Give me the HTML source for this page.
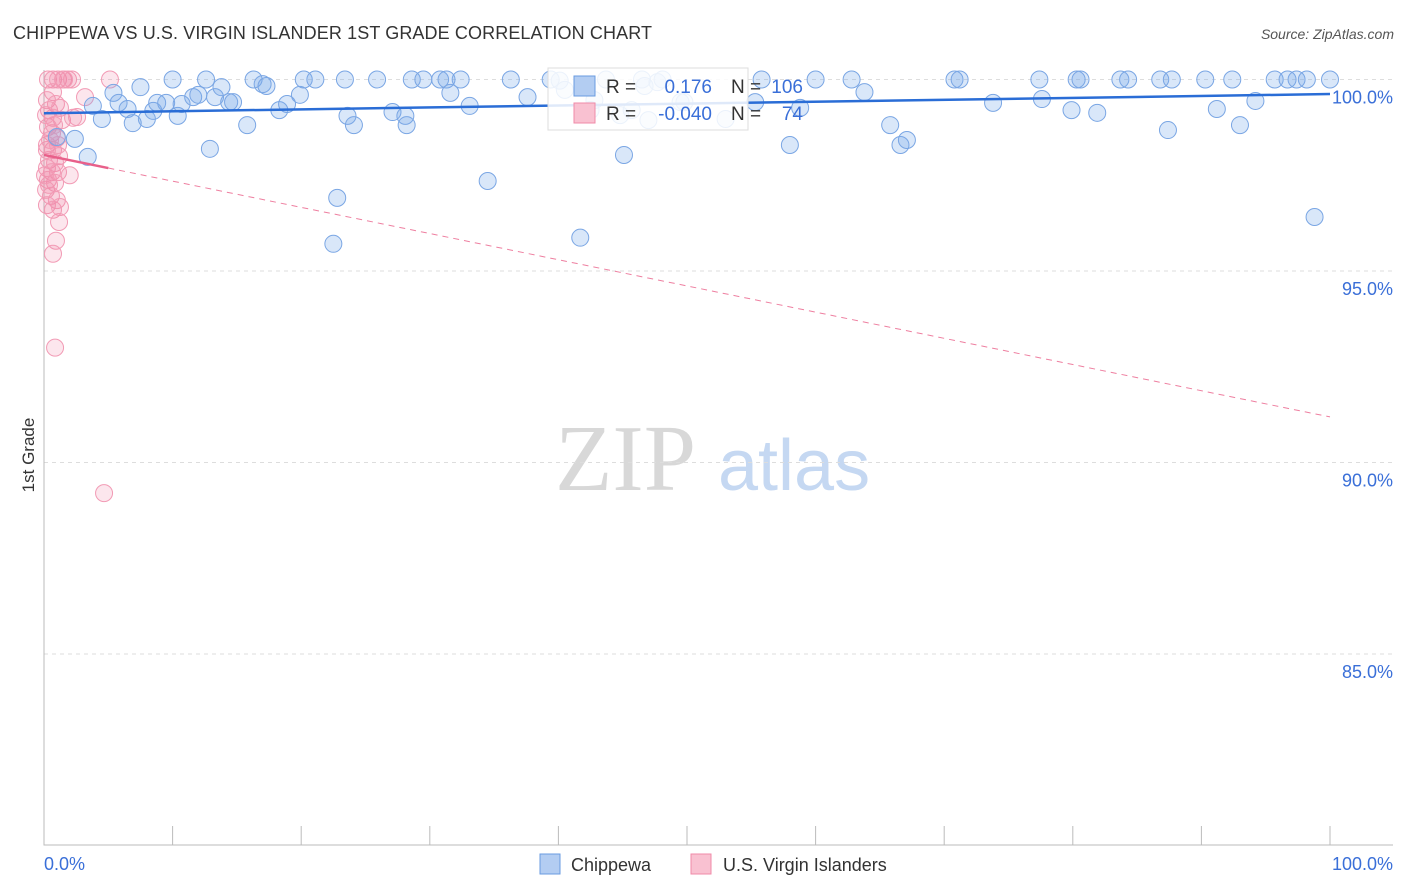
<!DOCTYPE html>
<html><head><meta charset="utf-8"><style>
body{margin:0;background:#fff;font-family:"Liberation Sans",sans-serif}
#wrap{position:relative;width:1406px;height:892px;overflow:hidden}
</style></head><body><div id="wrap">
<svg id="svg" width="1406" height="892" xmlns="http://www.w3.org/2000/svg">
<text x="13" y="39" font-size="18" fill="#333" textLength="639">CHIPPEWA VS U.S. VIRGIN ISLANDER 1ST GRADE CORRELATION CHART</text>
<text x="1394" y="39" font-size="14" fill="#555" font-style="italic" text-anchor="end">Source: ZipAtlas.com</text>
<text x="555" y="490" font-size="94" fill="#d8d8d8" font-family="Liberation Serif,serif">ZIP</text>
<text x="718" y="490" font-size="72" fill="#c5d8f2">atlas</text>
<g id="grid"></g><g id="axes"></g><g id="pink"></g><g id="blue"></g><g id="trend"></g>
<text transform="translate(34,455) rotate(-90)" font-size="17" fill="#333" text-anchor="middle">1st Grade</text>
<text x="44" y="870" font-size="18" fill="#3a6fd8">0.0%</text>
<text x="1393" y="870" font-size="18" fill="#3a6fd8" text-anchor="end">100.0%</text>
<g>
<rect x="548" y="68" width="200" height="62" fill="#fff" fill-opacity="0.85" stroke="#ddd"/>
<rect x="574" y="76" width="21" height="20" fill="#b3cdf2" stroke="#6a9be0"/>
<rect x="574" y="103" width="21" height="20" fill="#f9c1d1" stroke="#f08aa8"/>
<text x="606" y="93" font-size="19" fill="#333">R =</text>
<text x="712" y="93" font-size="19" fill="#3a6fd8" text-anchor="end">0.176</text>
<text x="731" y="93" font-size="19" fill="#333">N =</text>
<text x="803" y="93" font-size="19" fill="#3a6fd8" text-anchor="end">106</text>
<text x="606" y="120" font-size="19" fill="#333">R =</text>
<text x="712" y="120" font-size="19" fill="#3a6fd8" text-anchor="end">-0.040</text>
<text x="731" y="120" font-size="19" fill="#333">N =</text>
<text x="803" y="120" font-size="19" fill="#3a6fd8" text-anchor="end">74</text>
</g>
<g><rect x="540" y="854" width="20" height="20" fill="#b3cdf2" stroke="#6a9be0"/><text x="571" y="871" font-size="18" fill="#333">Chippewa</text></g>
<g><rect x="691" y="854" width="20" height="20" fill="#f9c1d1" stroke="#f08aa8"/><text x="723" y="871" font-size="18" fill="#333">U.S. Virgin Islanders</text></g>
</svg></div>
<script>
const yTicks=[100,95,90,85];
const yTickLabels=["100.0%","95.0%","90.0%","85.0%"];
const xTicks=[0,10,20,30,40,50,60,70,80,90,100];
const blueX=[1.0,2.4,3.4,3.8,4.5,5.4,5.8,6.5,6.9,7.5,8.0,8.5,8.8,9.5,10.0,10.4,10.7,11.6,12.0,12.6,12.9,13.3,13.8,14.4,14.7,15.8,16.3,17.0,17.3,18.3,18.9,19.9,20.2,21.1,22.8,22.5,23.4,23.6,24.1,25.9,27.1,28.1,28.2,28.6,29.5,30.8,31.3,31.6,32.4,33.1,34.5,36.3,37.6,39.4,41.7,43.7,45.1,45.7,46.5,46.7,47.0,47.7,48.1,49.5,49.8,53.0,55.3,55.8,58.0,58.8,60.0,62.8,63.8,65.8,66.6,67.1,70.8,71.2,73.8,77.4,77.6,80.3,80.6,79.9,81.9,83.7,84.3,86.8,87.4,87.7,90.3,91.2,92.4,93.0,94.2,95.7,96.7,97.4,98.2,98.8,100.0,40.1,40.5,42.8,44.8,42.5];
const blueY=[98.50,98.45,97.98,99.31,98.97,99.65,99.39,99.23,98.86,99.80,98.97,99.18,99.39,99.39,100,99.05,99.36,99.54,99.60,100,98.19,99.54,99.80,99.41,99.41,98.81,100,99.88,99.83,99.20,99.36,99.60,100,100,96.91,95.71,100,99.05,98.81,100,99.15,99.05,98.81,100,100,100,100,99.65,100,99.31,97.35,100,99.54,100,95.87,100,98.03,99.20,100,99.83,98.94,99.93,100,99.41,99.41,98.97,99.41,100,98.29,99.26,100,100,99.67,98.81,98.29,98.42,100,100,99.39,100,99.49,100,100,99.20,99.13,100,100,100,98.68,100,100,99.23,100,98.81,99.44,100,100,100,100,96.41,100,99.97,99.73,99.46,99.07,99.20];
const pinkX=[0.31,0.70,1.09,1.48,1.87,2.18,5.13,0.70,0.23,0.93,0.39,1.24,0.70,1.4,2.57,0.31,0.62,1.0,0.23,0.70,1.17,0.39,0.86,0.23,0.62,1.09,2.0,0.31,0.86,0.16,0.54,1.0,0.23,0.70,1.24,1.17,0.93,0.70,0.86,4.67,3.19,2.26,0.23,0.47,0.78,0.16,1.56,1.09,0.39,0.08];
const pinkY=[100,100,100,100,100,100,100,99.67,99.46,99.36,99.20,99.26,99.0,98.94,99.02,98.76,98.6,98.47,98.29,98.16,98.0,97.9,97.82,97.69,97.58,97.58,97.5,97.38,97.3,97.12,96.96,96.85,96.72,96.6,96.67,96.28,95.79,95.45,93.0,89.2,99.54,99.0,98.16,98.42,98.81,99.07,100,98.29,97.25,97.5];
const blueTrend=[99.12,99.62];
const pinkTrend=[98.03,91.19];
const pinkSolidEnd=5;
const X=v=>44+v*12.86, Y=v=>79.5+(100-v)*38.3;
const NS="http://www.w3.org/2000/svg";
function mk(t,a,p){const e=document.createElementNS(NS,t);for(const k in a)e.setAttribute(k,a[k]);p.appendChild(e);return e;}
const grid=document.getElementById('grid'),axes=document.getElementById('axes');
yTicks.forEach((t,i)=>{
 const l=mk('line',{x1:44,x2:1393,y1:Y(t),y2:Y(t),stroke:'#ddd','stroke-dasharray':'4,4'},grid);
 
 
 const tx=mk('text',{x:1393,y:Y(t)+24,'font-size':18,fill:'#3a6fd8','text-anchor':'end'},grid);
 tx.textContent=yTickLabels[i];
 
 
});
const ax=mk('path',{d:'M44 70V845H1393',stroke:'#bbb',fill:'none'},axes);


xTicks.forEach(t=>{
 const l=mk('line',{x1:X(t),x2:X(t),y1:826,y2:845,stroke:'#bbb'},axes);
 
 
});
pinkX.forEach((x,i)=>{
 const c=mk('circle',{cx:X(x),cy:Y(pinkY[i]),r:8.5,fill:'rgba(242,130,165,0.2)',stroke:'#f29bb5','stroke-width':1},document.getElementById('pink'));
 
 
});
blueX.forEach((x,i)=>{
 const c=mk('circle',{cx:X(x),cy:Y(blueY[i]),r:8.5,fill:'rgba(120,168,232,0.28)',stroke:'#7aa6e4','stroke-width':1},document.getElementById('blue'));
 
 
});
const tr=document.getElementById('trend');
const pm=pinkTrend[0]+(pinkTrend[1]-pinkTrend[0])*pinkSolidEnd/100;
let e=mk('line',{x1:X(pinkSolidEnd),y1:Y(pm),x2:X(100),y2:Y(pinkTrend[1]),stroke:'#ee7fa0','stroke-width':1,'stroke-dasharray':'6,5'},tr);


e=mk('line',{x1:X(0),y1:Y(pinkTrend[0]),x2:X(pinkSolidEnd),y2:Y(pm),stroke:'#e8608a','stroke-width':2.5},tr);


e=mk('line',{x1:X(0),y1:Y(blueTrend[0]),x2:X(100),y2:Y(blueTrend[1]),stroke:'#2a6dd6','stroke-width':2.5},tr);


</script></body></html>
